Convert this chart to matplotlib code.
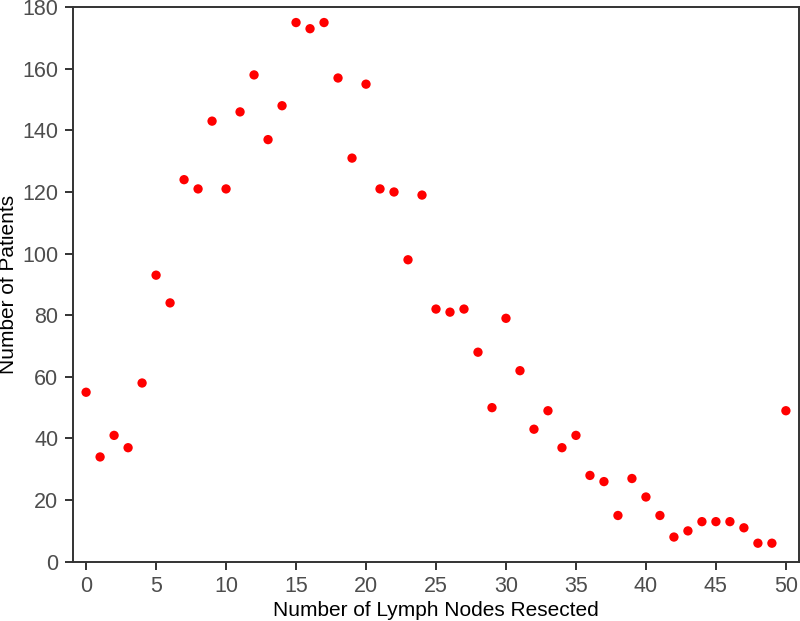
import matplotlib
matplotlib.use("Agg")
import matplotlib.pyplot as plt

plt.rcParams['font.family'] = ['Liberation Sans', 'DejaVu Sans']

nodes = list(range(51))
patients = [55, 34, 41, 37, 58, 93, 84, 124, 121, 143,
            121, 146, 158, 137, 148, 175, 173, 175, 157, 131,
            155, 121, 120, 98, 119, 82, 81, 82, 68, 50,
            79, 62, 43, 49, 37, 41, 28, 26, 15, 27,
            21, 15, 8, 10, 13, 13, 13, 11, 6, 6,
            49]

fig = plt.figure(figsize=(8, 6.21), dpi=100)
ax = fig.add_axes([0.091, 0.0955, 0.908, 0.893])

ax.scatter(nodes, patients, s=45, color='#ff0000', edgecolors='none', zorder=3)

ax.set_xlim(-0.95, 50.95)
ax.set_ylim(0, 180)
ax.set_xticks(range(0, 51, 5))
ax.set_yticks(range(0, 181, 20))

for s in ax.spines.values():
    s.set_color('#333333')
    s.set_linewidth(1.4)
ax.tick_params(direction='out', length=5.5, width=1.4, color='#333333',
               labelcolor='#4d4d4d', labelsize=15.5, pad=5)

ax.set_xlabel('Number of Lymph Nodes Resected', fontsize=15, color='black', labelpad=3)
ax.set_ylabel('Number of Patients', fontsize=15, color='black', labelpad=3)

fig.savefig('out.png', dpi=100)
